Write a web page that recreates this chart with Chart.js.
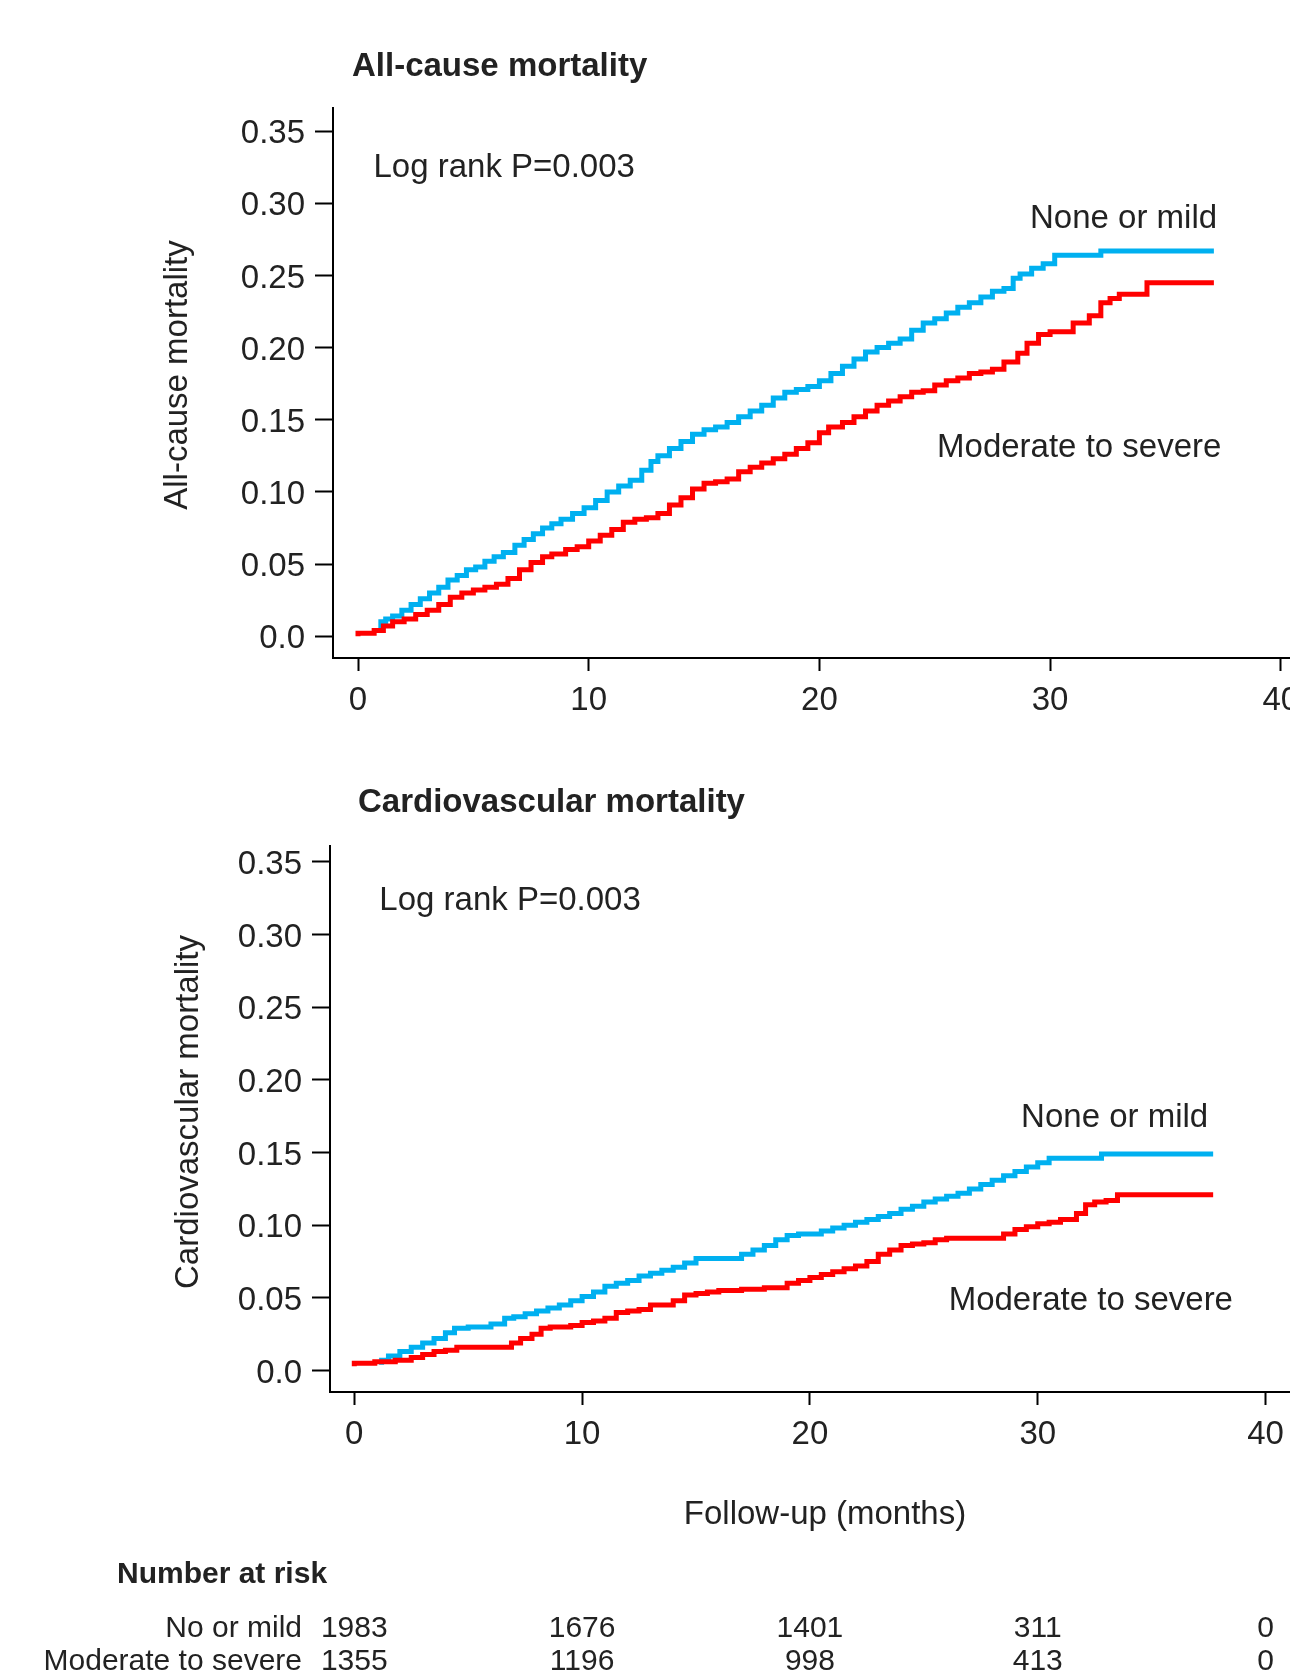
<!DOCTYPE html>
<html>
<head>
<meta charset="utf-8">
<script src="https://cdn.jsdelivr.net/npm/chart.js@4.4.1/dist/chart.umd.min.js"></script>
<style>
  html, body { margin: 0; padding: 0; background: #fff; }
  #page { position: relative; width: 1290px; height: 1673px; overflow: hidden; background: #fff; }
  .panel { position: absolute; left: 0; width: 1320px; }
</style>
</head>
<body>
<div id="page">
  <div class="panel" style="top:0;height:730px"><canvas id="all-cause"></canvas></div>
  <div class="panel" style="top:730px;height:943px"><canvas id="cardiovascular"></canvas></div>
</div>
<script>
// ticks
const monthTicks = [0, 10, 20, 30, 40];
const riskTicks = [0, 0.05, 0.10, 0.15, 0.20, 0.25, 0.30, 0.35];
const riskTickLabels = ['0.0', '0.05', '0.10', '0.15', '0.20', '0.25', '0.30', '0.35'];

// All-cause mortality, none or mild
const acMildT = [0.99, 1.2, 1.5, 1.9, 2.3, 2.7, 3.1, 3.5, 3.9, 4.3, 4.7, 5.1, 5.5, 5.9, 6.3, 6.8, 7.2, 7.6, 8.0, 8.4, 8.8, 9.3, 9.8, 10.3, 10.8, 11.3, 11.8, 12.3, 12.7, 13.0, 13.5, 14.0, 14.5, 15.0, 15.5, 16.0, 16.5, 17.0, 17.5, 18.0, 18.5, 19.0, 19.5, 20.0, 20.5, 21.0, 21.5, 22.0, 22.5, 23.0, 23.5, 24.0, 24.5, 25.0, 25.5, 26.0, 26.5, 27.0, 27.5, 28.0, 28.4, 28.7, 29.2, 29.7, 30.2, 30.6, 32.2, 32.4, 37.1];
const acMildY = [0.003, 0.010, 0.012, 0.014, 0.018, 0.022, 0.026, 0.030, 0.034, 0.039, 0.042, 0.046, 0.048, 0.052, 0.055, 0.058, 0.063, 0.067, 0.071, 0.075, 0.078, 0.081, 0.085, 0.089, 0.094, 0.100, 0.104, 0.108, 0.115, 0.121, 0.125, 0.130, 0.135, 0.140, 0.143, 0.145, 0.148, 0.152, 0.156, 0.160, 0.165, 0.169, 0.171, 0.173, 0.177, 0.182, 0.187, 0.192, 0.197, 0.200, 0.203, 0.206, 0.212, 0.217, 0.220, 0.224, 0.228, 0.231, 0.235, 0.239, 0.241, 0.248, 0.251, 0.255, 0.258, 0.264, 0.264, 0.267, 0.267];

// All-cause mortality, moderate to severe
const acModT = [0.0, 0.7, 1.1, 1.5, 2.0, 2.5, 3.0, 3.5, 4.0, 4.5, 5.0, 5.5, 6.0, 6.5, 7.0, 7.5, 8.0, 8.4, 9.0, 9.5, 10.0, 10.5, 11.0, 11.5, 12.0, 12.5, 13.0, 13.5, 14.0, 14.5, 15.0, 15.5, 16.0, 16.5, 17.0, 17.5, 18.0, 18.5, 19.0, 19.5, 20.0, 20.4, 21.0, 21.5, 22.0, 22.5, 23.0, 23.5, 24.0, 24.5, 25.0, 25.5, 26.0, 26.5, 27.0, 27.5, 28.0, 28.6, 29.0, 29.5, 30.0, 31.0, 31.7, 32.2, 32.6, 33.0, 34.2, 34.4, 37.1];
const acModY = [0.000, 0.002, 0.004, 0.007, 0.010, 0.012, 0.015, 0.018, 0.022, 0.027, 0.030, 0.032, 0.034, 0.036, 0.040, 0.046, 0.051, 0.055, 0.057, 0.060, 0.062, 0.066, 0.070, 0.074, 0.079, 0.081, 0.082, 0.085, 0.091, 0.096, 0.102, 0.106, 0.107, 0.109, 0.114, 0.117, 0.120, 0.123, 0.126, 0.130, 0.134, 0.141, 0.145, 0.148, 0.152, 0.156, 0.160, 0.163, 0.166, 0.169, 0.170, 0.174, 0.177, 0.179, 0.182, 0.183, 0.185, 0.190, 0.196, 0.203, 0.209, 0.211, 0.217, 0.222, 0.231, 0.234, 0.237, 0.245, 0.245];

// Cardiovascular mortality, none or mild
const cvMildT = [1.2, 1.5, 2.0, 2.5, 3.0, 3.5, 4.0, 4.4, 5.0, 5.5, 6.0, 6.6, 7.0, 7.5, 8.0, 8.5, 9.0, 9.5, 10.0, 10.5, 11.0, 11.5, 12.0, 12.5, 13.0, 13.5, 14.0, 14.5, 15.0, 15.5, 17.0, 17.5, 18.0, 18.5, 19.0, 19.5, 20.5, 21.0, 21.5, 22.0, 22.5, 23.0, 23.5, 24.0, 24.5, 25.0, 25.5, 26.0, 26.5, 27.0, 27.5, 28.0, 28.5, 29.0, 29.5, 30.0, 30.5, 31.0, 32.8, 33.0, 37.7];
const cvMildY = [0.004, 0.007, 0.010, 0.013, 0.016, 0.019, 0.022, 0.026, 0.029, 0.030, 0.030, 0.032, 0.036, 0.037, 0.039, 0.041, 0.043, 0.045, 0.048, 0.051, 0.054, 0.058, 0.060, 0.062, 0.065, 0.067, 0.069, 0.071, 0.074, 0.077, 0.077, 0.080, 0.083, 0.086, 0.090, 0.093, 0.094, 0.096, 0.098, 0.100, 0.102, 0.104, 0.106, 0.108, 0.111, 0.113, 0.116, 0.118, 0.120, 0.122, 0.125, 0.128, 0.131, 0.134, 0.137, 0.140, 0.143, 0.146, 0.146, 0.149, 0.149];

// Cardiovascular mortality, moderate to severe
const cvModT = [0.0, 0.9, 1.8, 2.5, 3.0, 3.5, 4.0, 4.5, 5.0, 6.9, 7.3, 7.8, 8.2, 8.6, 9.5, 10.0, 10.5, 11.0, 11.5, 12.0, 12.5, 13.0, 14.0, 14.5, 15.0, 15.5, 16.0, 17.0, 18.0, 19.0, 19.5, 20.0, 20.5, 21.0, 21.5, 22.0, 22.5, 23.0, 23.5, 24.0, 24.5, 25.0, 25.5, 26.0, 28.5, 29.0, 29.5, 30.0, 30.5, 31.0, 31.7, 32.1, 32.5, 33.0, 33.5, 34.0, 37.7];
const cvModY = [0.003, 0.005, 0.006, 0.007, 0.009, 0.011, 0.013, 0.014, 0.016, 0.016, 0.019, 0.022, 0.025, 0.029, 0.030, 0.031, 0.033, 0.034, 0.036, 0.040, 0.041, 0.042, 0.045, 0.048, 0.052, 0.053, 0.054, 0.055, 0.056, 0.057, 0.060, 0.062, 0.064, 0.066, 0.068, 0.070, 0.072, 0.075, 0.080, 0.083, 0.086, 0.087, 0.088, 0.090, 0.091, 0.094, 0.097, 0.099, 0.101, 0.102, 0.104, 0.108, 0.114, 0.116, 0.117, 0.121, 0.121];

// number at risk
const riskTimes = [0, 10, 20, 30, 40];
const riskMild = [1983, 1676, 1401, 311, 0];
const riskMod = [1355, 1196, 998, 413, 0];
const groupLabels = ['No or mild', 'Moderate to severe'];

const FONT = '"Liberation Sans", Arial, sans-serif';
const BLUE = '#00b0f0';
const RED = '#ff0000';
const INK = '#222';
const NUDGE = 3; // canvas 'middle' sits a little high for this font

Chart.defaults.font.family = FONT;
Chart.defaults.color = INK;

function toPoints(times, values) {
  return times.map((t, i) => ({x: t, y: values[i]}));
}

// titles, rotated y title, in-plot labels and the risk table
const textMarks = {
  id: 'textMarks',
  afterDraw(chart, args, o) {
    const {ctx, scales: {x, y}} = chart;
    ctx.save();
    ctx.fillStyle = INK;
    ctx.textBaseline = 'middle';
    ctx.textAlign = 'left';
    ctx.font = 'bold 33px ' + FONT;
    ctx.fillText(o.title, o.titleX, o.titleY + NUDGE);
    ctx.font = '33px ' + FONT;
    o.notes.forEach(n => ctx.fillText(n.text, x.getPixelForValue(n.x), y.getPixelForValue(n.y) + NUDGE));

    ctx.save();
    ctx.translate(o.yTitleX, o.yTitleY);
    ctx.rotate(-Math.PI / 2);
    ctx.textAlign = 'center';
    ctx.fillText(o.yTitle, 0, 0);
    ctx.restore();

    if (o.table) {
      const t = o.table;
      ctx.font = 'bold 30px ' + FONT;
      ctx.fillText('Number at risk', t.headX, t.headY);
      ctx.font = '30px ' + FONT;
      [riskMild, riskMod].forEach((row, r) => {
        const rowY = t.rowY[r];
        ctx.textAlign = 'right';
        ctx.fillText(groupLabels[r], t.labelRight, rowY);
        ctx.textAlign = 'center';
        row.forEach((n, i) => ctx.fillText(String(n), x.getPixelForValue(riskTimes[i]), rowY));
      });
    }
    ctx.restore();
  }
};

function createKmChart(elementId, o) {
  const lineStyle = {pointRadius: 0, borderWidth: 5, stepped: 'after', fill: false, tension: 0};
  const config = {
    type: 'line',
    data: {
      datasets: [
        Object.assign({label: 'Moderate to severe', data: toPoints(o.modT, o.modY), borderColor: RED}, lineStyle),
        Object.assign({label: 'None or mild', data: toPoints(o.mildT, o.mildY), borderColor: BLUE}, lineStyle)
      ]
    },
    options: {
      responsive: true,
      maintainAspectRatio: false,
      animation: false,
      devicePixelRatio: 1,
      layout: {padding: {top: o.areaTop, left: 0, right: 0, bottom: 0}},
      plugins: {
        legend: {display: false},
        tooltip: {enabled: false},
        textMarks: o.marks
      },
      scales: {
        x: {
          type: 'linear',
          min: o.xMin,
          max: o.xMax,
          afterBuildTicks: s => { s.ticks = monthTicks.map(v => ({value: v})); },
          afterFit: s => { s.height = o.height - o.areaBottom; s.paddingLeft = 0; s.paddingRight = 0; },
          ticks: {font: {size: 33}, padding: 10, maxRotation: 0, autoSkip: false, color: INK, callback: v => String(v)},
          grid: {drawOnChartArea: false, tickLength: 13, tickColor: '#000', tickWidth: 2},
          border: {color: '#000', width: 2},
          title: o.xTitle ? {display: true, text: o.xTitle, font: {size: 33}, color: INK, padding: {bottom: 138}} : {display: false}
        },
        y: {
          type: 'linear',
          min: o.yMin,
          max: o.yMax,
          afterBuildTicks: s => { s.ticks = riskTicks.map(v => ({value: v})); },
          afterFit: s => { s.width = o.areaLeft; s.paddingTop = 0; s.paddingBottom = 0; },
          ticks: {font: {size: 33}, padding: 10, labelOffset: 3, color: INK, callback: v => riskTickLabels[riskTicks.findIndex(r => Math.abs(r - v) < 1e-9)]},
          grid: {drawOnChartArea: false, tickLength: 18, tickColor: '#000', tickWidth: 2},
          border: {color: '#000', width: 2},
          title: {display: false}
        }
      }
    },
    plugins: [textMarks]
  };
  return new Chart(document.getElementById(elementId), config);
}

const allCauseChart = createKmChart('all-cause', {
  mildT: acMildT, mildY: acMildY, modT: acModT, modY: acModY,
  height: 730, areaTop: 108, areaBottom: 658, areaLeft: 333,
  xMin: -1.084, xMax: 41.7, yMin: -0.0151, yMax: 0.366,
  marks: {
    title: 'All-cause mortality', titleX: 352, titleY: 64,
    yTitle: 'All-cause mortality', yTitleX: 178, yTitleY: 375,
    notes: [
      {text: 'Log rank P=0.003', x: 0.67, y: 0.3265},
      {text: 'None or mild', x: 29.13, y: 0.2915},
      {text: 'Moderate to severe', x: 25.1, y: 0.1326}
    ]
  }
});

const cardiovascularChart = createKmChart('cardiovascular', {
  mildT: cvMildT, mildY: cvMildY, modT: cvModT, modY: cvModY,
  height: 943, areaTop: 116, areaBottom: 662, areaLeft: 330,
  xMin: -1.066, xMax: 42.39, yMin: -0.0148, yMax: 0.361,
  xTitle: 'Follow-up (months)',
  marks: {
    title: 'Cardiovascular mortality', titleX: 358, titleY: 70,
    yTitle: 'Cardiovascular mortality', yTitleX: 189, yTitleY: 382,
    notes: [
      {text: 'Log rank P=0.003', x: 1.10, y: 0.3253},
      {text: 'None or mild', x: 29.27, y: 0.176},
      {text: 'Moderate to severe', x: 26.09, y: 0.0499}
    ],
    table: {headX: 117, headY: 845, labelRight: 302, rowY: [899, 932]}
  }
});
</script>
</body>
</html>
